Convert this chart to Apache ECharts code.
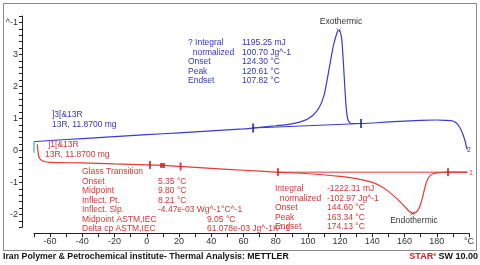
<!DOCTYPE html>
<html><head><meta charset="utf-8">
<script src="https://cdn.jsdelivr.net/npm/echarts@6/dist/echarts.min.js"></script>
<style>html,body{margin:0;padding:0;background:#fff}#c{width:480px;height:265px}</style>
</head><body><div id="c"></div>
<script>
// ---- data ----
var blueT = [-70,-60,-40,-20,0,20,40,60,66,80,90,98,103,107,110,112,114,116,118,119,120,121,122,123,124,125,127,133,150,170,180,185,190,193,195.5,197.5,198.5,199];
var blueV = [0.27,0.31,0.37,0.43,0.49,0.55,0.61,0.67,0.70,0.77,0.83,0.94,1.09,1.34,1.72,2.22,2.78,3.31,3.66,3.75,3.72,3.47,2.78,1.90,1.22,0.94,0.84,0.84,0.89,0.94,0.95,0.94,0.92,0.81,0.59,0.31,0.09,0.03];
var redT = [-68,-67.5,-67,-66,-64,-60,-40,-20,0,10,20,40,60,80,100,120,130,140,145,150,155,160,163,165,167,169,171,173,175,178,182,186,199];
var redV = [0.19,-0.03,-0.19,-0.28,-0.34,-0.375,-0.39,-0.42,-0.45,-0.47,-0.5,-0.56,-0.62,-0.68,-0.73,-0.81,-0.88,-1.0,-1.11,-1.28,-1.5,-1.75,-1.91,-1.97,-1.94,-1.81,-1.5,-1.09,-0.84,-0.72,-0.69,-0.68,-0.68];
var blueBaseT = [66,133];
var blueBaseV = [0.70,0.84];
var redBaseT = [81.4,199];
var redBaseV = [-0.68,-0.68];
var blueMarkT = [66,133];
var blueMarkV = [0.70,0.84];
var redMarkT = [2,21,81.4,187];
var redMarkV = [-0.455,-0.5,-0.68,-0.68];
var redDotT = [9.8];
var redDotV = [-0.47];
var startMarkT = [-70];
var startMarkV = [0.1];
var peakT = [119,165];
var peakV = [3.75,-1.97];
var xTickLabels = {'-60':'-60','-40':'-40','-20':'-20','0':'0','20':'20','40':'40','60':'60','80':'80','100':'100','120':'120','140':'140','160':'160','180':'180','200':'°C'};
var yTickLabels = {'-2':'-2','-1':'-1','0':'0','1':'1','2':'2','3':'3','4':'^-1'};
var exoLabels = ['? Integral','  normalized','Onset','Peak','Endset'];
var exoValues = ['1195.25 mJ','100.70 Jg^-1','124.30 °C','120.61 °C','107.82 °C'];
var glassLabels = ['Glass Transition','Onset','Midpoint','Inflect. Pt.','Inflect. Slp.','Midpoint ASTM,IEC','Delta cp ASTM,IEC'];
var glassValues = ['','5.35 °C','9.80 °C','8.21 °C','-4.47e-03 Wg^-1°C^-1','9.05 °C','61.078e-03 Jg^-1K^-1'];
var endoLabels = ['Integral','  normalized','Onset','Peak','Endset'];
var endoValues = ['-1222.31 mJ','-102.97 Jg^-1','144.60 °C','163.34 °C','174.13 °C'];
var blueSample = [']3[&13R','13R, 11.8700 mg'];
var redSample = [']1[&13R','13R, 11.8700 mg'];
var footerLeft = 'Iran Polymer & Petrochemical institute- Thermal Analysis: METTLER';

function zip(a,b){return a.map(function(v,i){return [v,b[i]];});}

var BLUE='#3a3ad2', RED='#e43a36', BTXT='#3535c0', RTXT='#d83535';
var FONT='"Liberation Sans", Arial, sans-serif';
var g=[];
g.push({type:'rect',shape:{x:3.5,y:3.5,width:473,height:247},style:{fill:'none',stroke:'#8a8a8a',lineWidth:1},z:0});
function txt(x,y,t,color,size,extra){
  var o={type:'text',x:x,y:y,style:{text:t,fill:color,font:(size||8.5)+'px '+FONT,textVerticalAlign:'middle'},z:10};
  if(extra){for(var k in extra)o.style[k]=extra[k];}
  g.push(o);
}
var exoY=[43,52.7,62,71.3,81];
exoLabels.forEach(function(t,i){txt(188,exoY[i],t,BTXT);});
exoValues.forEach(function(t,i){txt(242,exoY[i],t,BTXT);});
var glY=[172,181.5,191,200.5,210,219.5,229];
glassLabels.forEach(function(t,i){txt(82,glY[i],t,RTXT);});
glassValues.forEach(function(t,i){ if(t) txt(i<5?158:207,glY[i],t,RTXT);});
var enY=[189,198.5,208,217.5,227];
endoLabels.forEach(function(t,i){txt(275,enY[i],t,RTXT);});
endoValues.forEach(function(t,i){txt(327,enY[i],t,RTXT);});
txt(52,115,blueSample[0],BTXT); txt(52,124.5,blueSample[1],BTXT);
txt(48,145,redSample[0],RTXT); txt(45,154.5,redSample[1],RTXT);
txt(341,22,'Exothermic','#333',8.5,{textAlign:'center'});
txt(414,221,'Endothermic','#333',8.5,{textAlign:'center'});
txt(467,150,'2',BTXT,7);
txt(469,173,'1',RTXT,7);
g.push({type:'text',x:3,y:257,scaleX:0.975,style:{text:footerLeft,fill:'#111',font:'bold 9px '+FONT,textVerticalAlign:'middle'},z:10});
g.push({type:'text',x:478,y:257,style:{text:'{r|STAR}{s|e}{k| SW 10.00}',textAlign:'right',textVerticalAlign:'middle',rich:{r:{fill:'#d42020',font:'bold 9px '+FONT},s:{fill:'#d42020',font:'bold 5px '+FONT,verticalAlign:'top'},k:{fill:'#111',font:'bold 9px '+FONT}}},z:10});

var option={
  animation:false,
  grid:{left:34,top:16,width:435,height:211.2,containLabel:false},
  xAxis:{type:'value',min:-70,max:200,interval:10,offset:6,
    axisLine:{show:true,onZero:false,lineStyle:{color:'#222',width:1}},
    axisTick:{show:true,length:4,lineStyle:{color:'#222'}},
    splitLine:{show:false},
    axisLabel:{color:'#333',fontSize:9,fontFamily:FONT,margin:4,showMinLabel:true,showMaxLabel:true,
      formatter:function(v){var k=String(Math.round(v));return xTickLabels.hasOwnProperty(k)?xTickLabels[k]:'';}}},
  yAxis:{type:'value',min:-2.4,max:4.2,interval:0.2,offset:12,
    axisLine:{show:true,onZero:false,lineStyle:{color:'#222',width:1}},
    axisTick:{show:true,length:3,lineStyle:{color:'#222'}},
    splitLine:{show:false},
    axisLabel:{color:'#333',fontSize:9,fontFamily:FONT,margin:4,showMinLabel:true,showMaxLabel:true,
      formatter:function(v){if(Math.abs(v-Math.round(v))>1e-6)return '';var k=String(Math.round(v));return yTickLabels.hasOwnProperty(k)?yTickLabels[k]:'';}}},
  graphic:g,
  series:[
    {type:'line',data:zip(blueT,blueV),showSymbol:false,smooth:0.25,lineStyle:{color:BLUE,width:1.2},z:3},
    {type:'line',data:zip(redT,redV),showSymbol:false,smooth:0.25,lineStyle:{color:RED,width:1.2},z:3},
    {type:'line',data:zip(blueBaseT,blueBaseV),showSymbol:false,lineStyle:{color:BLUE,width:1},z:2},
    {type:'line',data:zip(redBaseT,redBaseV),showSymbol:false,lineStyle:{color:RED,width:1},z:2},
    {type:'scatter',data:zip(blueMarkT,blueMarkV),symbol:'rect',symbolSize:[2,9],itemStyle:{color:'#1e1e9a'},z:4},
    {type:'scatter',data:zip(redMarkT,redMarkV),symbol:'rect',symbolSize:[2,8],itemStyle:{color:'#c81e1e'},z:4},
    {type:'scatter',data:zip(redDotT,redDotV),symbol:'rect',symbolSize:5,itemStyle:{color:'#c81e1e'},z:4},
    {type:'scatter',data:zip(startMarkT,startMarkV),symbol:'rect',symbolSize:[1.5,11],itemStyle:{color:'#40b0b0'},z:4},
    {type:'scatter',data:zip(peakT,peakV),symbol:'path://M0,0L10,10M10,0L0,10',symbolSize:4,itemStyle:{color:'none',borderColor:'#555',borderWidth:1},z:4}
  ]
};
var chart=echarts.init(document.getElementById('c'),null,{renderer:'canvas'});
chart.setOption(option);
</script></body></html>
